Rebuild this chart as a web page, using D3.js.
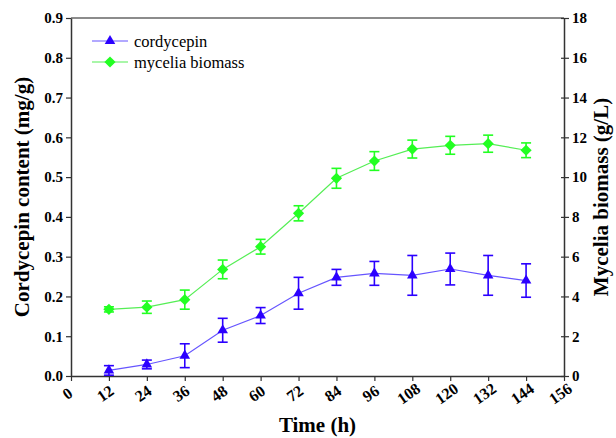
<!DOCTYPE html>
<html>
<head>
<meta charset="utf-8">
<script src="https://cdn.jsdelivr.net/npm/d3@7"></script>
<style>
  body { margin: 0; background: #fff; }
</style>
</head>
<body>
<svg id="chart" width="616" height="438"></svg>
<script>
// time points (h)
const times = [12, 24, 36, 48, 60, 72, 84, 96, 108, 120, 132, 144];
// cordycepin content (mg/g) and its error
const cordycepin = [0.014, 0.029, 0.051, 0.115, 0.152, 0.208, 0.248, 0.258, 0.253, 0.269, 0.253, 0.240];
const cordycepinErr = [0.012, 0.011, 0.030, 0.030, 0.020, 0.040, 0.020, 0.030, 0.050, 0.040, 0.050, 0.042];
// mycelia biomass (g/L) and its error
const biomass = [3.35, 3.46, 3.84, 5.36, 6.50, 8.18, 9.94, 10.81, 11.41, 11.60, 11.68, 11.35];
const biomassErr = [0.13, 0.31, 0.48, 0.47, 0.37, 0.38, 0.50, 0.47, 0.45, 0.45, 0.43, 0.37];

const xTicks = d3.range(0, 157, 12);
const leftTicks = d3.range(0, 0.91, 0.1);
const rightTicks = d3.range(0, 19, 2);

const FONT = '"Liberation Serif", "Times New Roman", serif';
const blue = '#2b00ff';
const blueLine = '#6655ff';
const green = '#22ff22';
const greenLine = '#55ee55';

const svg = d3.select('#chart');
const margin = {left: 71, right: 52, top: 18, bottom: 62};
const width = 616 - margin.left - margin.right;
const height = 438 - margin.top - margin.bottom;

const x = d3.scaleLinear().domain([0, 156]).range([margin.left, margin.left + width]);
const yL = d3.scaleLinear().domain([0, 0.9]).range([margin.top + height, margin.top]);
const yR = d3.scaleLinear().domain([0, 18]).range([margin.top + height, margin.top]);

// top border
svg.append('line')
  .attr('x1', x(0)).attr('x2', x(156))
  .attr('y1', yL(0.9)).attr('y2', yL(0.9))
  .attr('stroke', '#666').attr('stroke-width', 1.5);

// x axis
const xAxis = svg.append('g')
  .attr('transform', `translate(0,${yL(0)})`)
  .call(d3.axisBottom(x).tickValues(xTicks).tickSize(5).tickSizeOuter(0));
xAxis.select('.domain').attr('stroke', '#333').attr('stroke-width', 1.5);
xAxis.selectAll('.tick line').attr('stroke', '#333').attr('stroke-width', 1.2);
xAxis.selectAll('.tick text')
  .attr('font-family', FONT)
  .attr('font-size', 16).attr('font-weight', 'bold').attr('fill', '#000')
  .attr('text-anchor', 'middle')
  .attr('y', 0).attr('dy', 0)
  .attr('transform', 'translate(-1,22) rotate(-35)');

// left axis
const leftAxis = svg.append('g')
  .attr('transform', `translate(${x(0)},0)`)
  .call(d3.axisLeft(yL).tickValues(leftTicks).tickFormat(d3.format('.1f')).tickSize(5).tickSizeOuter(0));
leftAxis.select('.domain').attr('stroke', '#333').attr('stroke-width', 1.5);
leftAxis.selectAll('.tick line').attr('stroke', '#333').attr('stroke-width', 1.2);
leftAxis.selectAll('.tick text')
  .attr('font-family', FONT)
  .attr('font-size', 15).attr('font-weight', 'bold').attr('fill', '#000');

// right axis
const rightAxis = svg.append('g')
  .attr('transform', `translate(${x(156)},0)`)
  .call(d3.axisRight(yR).tickValues(rightTicks).tickSize(5).tickSizeOuter(0));
rightAxis.select('.domain').attr('stroke', '#333').attr('stroke-width', 1.5);
rightAxis.selectAll('.tick line').attr('stroke', '#333').attr('stroke-width', 1.2).attr('x1', -3);
rightAxis.selectAll('.tick text')
  .attr('font-family', FONT)
  .attr('font-size', 15).attr('font-weight', 'bold').attr('fill', '#000');

// axis titles
svg.append('text')
  .attr('transform', `translate(29,${yL(0.45)}) rotate(-90)`)
  .attr('text-anchor', 'middle')
  .attr('font-family', FONT)
  .attr('font-size', 21).attr('font-weight', 'bold')
  .text('Cordycepin content (mg/g)');

svg.append('text')
  .attr('transform', `translate(608,${yL(0.45)}) rotate(-90)`)
  .attr('text-anchor', 'middle')
  .attr('font-family', FONT)
  .attr('font-size', 21).attr('font-weight', 'bold')
  .text('Mycelia biomass (g/L)');

svg.append('text')
  .attr('x', x(78)).attr('y', 432)
  .attr('text-anchor', 'middle')
  .attr('font-family', FONT)
  .attr('font-size', 21).attr('font-weight', 'bold')
  .text('Time (h)');

// draw a series with error bars
function drawSeries(values, errs, yScale, color, lineColor, marker) {
  const pts = times.map((t, i) => ({t: t, v: values[i], e: errs[i]}));
  const g = svg.append('g');

  g.append('path')
    .datum(pts)
    .attr('d', d3.line().x(d => x(d.t)).y(d => yScale(d.v)))
    .attr('fill', 'none')
    .attr('stroke', lineColor)
    .attr('stroke-width', 1.2);

  const eb = g.selectAll('.err').data(pts).join('g').attr('class', 'err');
  eb.append('line')
    .attr('x1', d => x(d.t)).attr('x2', d => x(d.t))
    .attr('y1', d => yScale(d.v - d.e)).attr('y2', d => yScale(d.v + d.e))
    .attr('stroke', color).attr('stroke-width', 1.6);
  [1, -1].forEach(s => {
    eb.append('line')
      .attr('x1', d => x(d.t) - 5).attr('x2', d => x(d.t) + 5)
      .attr('y1', d => yScale(d.v + s * d.e)).attr('y2', d => yScale(d.v + s * d.e))
      .attr('stroke', color).attr('stroke-width', 1.6);
  });

  g.selectAll('.marker').data(pts).join('path')
    .attr('class', 'marker')
    .attr('transform', d => `translate(${x(d.t)},${yScale(d.v)})`)
    .attr('d', d3.symbol().type(marker).size(80))
    .attr('fill', color);
}

drawSeries(biomass, biomassErr, yR, green, greenLine, d3.symbolDiamond2);
drawSeries(cordycepin, cordycepinErr, yL, blue, blueLine, d3.symbolTriangle2);

// legend
const legendItems = [
  {label: 'cordycepin', color: blue, lineColor: blueLine, marker: d3.symbolTriangle2},
  {label: 'mycelia biomass', color: green, lineColor: greenLine, marker: d3.symbolDiamond2}
];
const legend = svg.append('g').attr('transform', 'translate(92,41)');
legendItems.forEach((item, i) => {
  const row = legend.append('g').attr('transform', `translate(0,${i * 21})`);
  row.append('line')
    .attr('x1', 0).attr('x2', 36).attr('y1', 0).attr('y2', 0)
    .attr('stroke', item.lineColor).attr('stroke-width', 1.2);
  row.append('path')
    .attr('transform', 'translate(18,0)')
    .attr('d', d3.symbol().type(item.marker).size(80))
    .attr('fill', item.color);
  row.append('text')
    .attr('x', 42).attr('y', 6)
    .attr('font-family', FONT)
    .attr('font-size', 16.5)
    .text(item.label);
});
</script>
</body>
</html>
